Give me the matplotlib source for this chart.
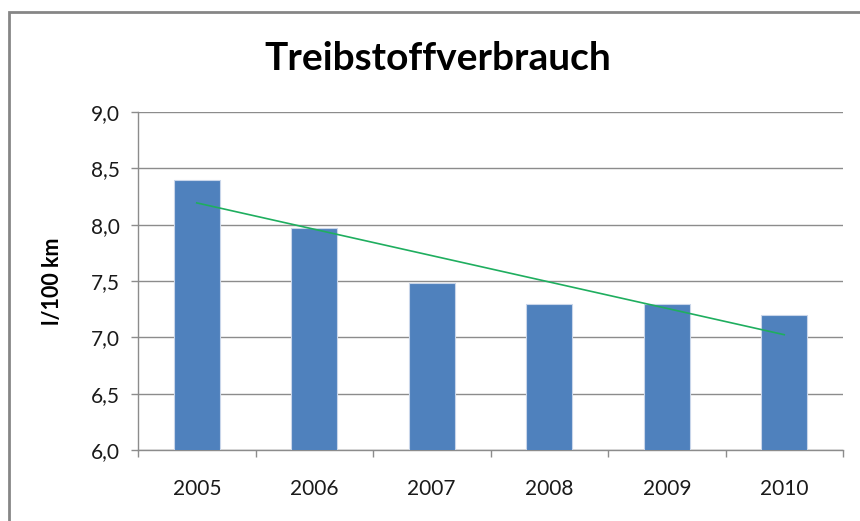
import numpy as np
import matplotlib.pyplot as plt
from matplotlib.ticker import FuncFormatter, FixedLocator
from matplotlib.patches import Rectangle

years = ['2005', '2006', '2007', '2008', '2009', '2010']
verbrauch = [8.40, 7.97, 7.48, 7.30, 7.30, 7.20]

plt.rcParams['font.family'] = ['Lato', 'DejaVu Sans']

fig = plt.figure(figsize=(8.6, 5.21), dpi=100)
ax = fig.add_axes([138/860, 71/521, 705/860, 338/521])

x = np.arange(len(years))
ax.bar(x, verbrauch, width=0.39, color='#4F81BD', edgecolor='#c9d6ea', linewidth=0.8, zorder=3)

# linear trend line like excel
k, d = np.polyfit(x, verbrauch, 1)
ax.plot([x[0], x[-1]], [k*x[0]+d, k*x[-1]+d], color='#1fae5f', lw=1.2, zorder=4)

ax.set_xlim(-0.5, 5.5)
ax.set_ylim(6.0, 9.0)
ax.set_yticks(np.arange(6.0, 9.01, 0.5))
ax.yaxis.set_major_formatter(FuncFormatter(lambda v, p: ('%.1f' % v).replace('.', ',')))
ax.grid(axis='y', color='#8c8c8c', lw=1, zorder=0)

ax.set_xticks(x)
ax.set_xticklabels(years)
ax.xaxis.set_minor_locator(FixedLocator(np.arange(-0.5, 5.6, 1.0)))
ax.tick_params(axis='x', which='major', length=0, pad=21, labelsize=15, colors='#1a1a1a')
ax.tick_params(axis='x', which='minor', length=5, width=1, color='#8c8c8c')
ax.tick_params(axis='y', length=5, width=1, color='#8c8c8c', pad=8, labelsize=15, labelcolor='#1a1a1a')

for s in ['top', 'right']:
    ax.spines[s].set_visible(False)
for s in ['left', 'bottom']:
    ax.spines[s].set_color('#8c8c8c')
    ax.spines[s].set_linewidth(1)

ax.set_ylabel('l/100 km', fontsize=15.5, fontweight='bold', labelpad=20)
fig.text(438/860, 1 - 58/521, 'Treibstoffverbrauch', ha='center', va='center',
         fontsize=28, fontweight='bold')

# chart border
fig.patches.append(Rectangle((9/860, -0.05), 1.05, 1.05 - 12/521, transform=fig.transFigure,
                             fill=False, edgecolor='#868686', lw=2))

fig.savefig('out.png', dpi=100)
